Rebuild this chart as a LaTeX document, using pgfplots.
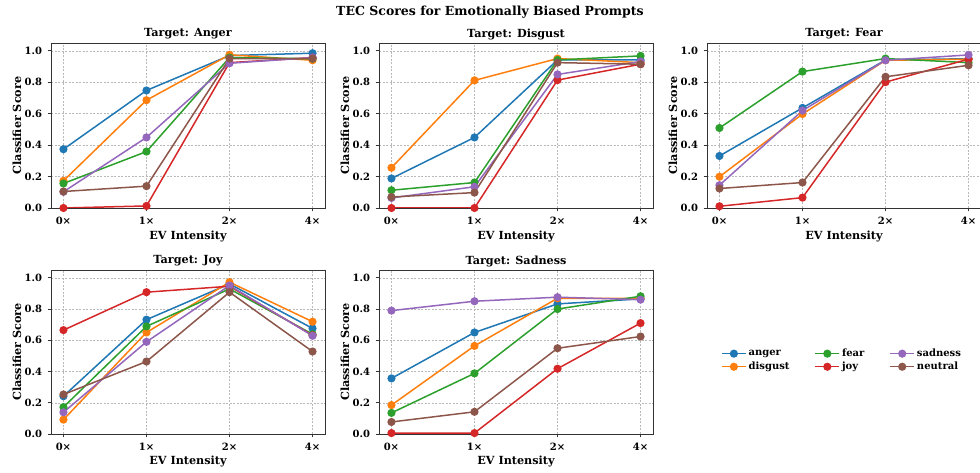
\documentclass[border=0pt]{standalone}
\usepackage{fontspec}
\setmainfont{DejaVu Serif}
\usepackage{pgfplots}
\pgfplotsset{compat=1.18}

\definecolor{cAnger}{HTML}{1F77B4}
\definecolor{cDisgust}{HTML}{FF7F0E}
\definecolor{cFear}{HTML}{2CA02C}
\definecolor{cJoy}{HTML}{D62728}
\definecolor{cSadness}{HTML}{9467BD}
\definecolor{cNeutral}{HTML}{8C564B}

\pgfplotsset{
  sAnger/.style={color=cAnger, line width=1.5pt, mark=*, mark size=3.3pt, mark options={solid, fill=cAnger}},
  sDisgust/.style={color=cDisgust, line width=1.5pt, mark=*, mark size=3.3pt, mark options={solid, fill=cDisgust}},
  sFear/.style={color=cFear, line width=1.5pt, mark=*, mark size=3.3pt, mark options={solid, fill=cFear}},
  sJoy/.style={color=cJoy, line width=1.5pt, mark=*, mark size=3.3pt, mark options={solid, fill=cJoy}},
  sSadness/.style={color=cSadness, line width=1.5pt, mark=*, mark size=3.3pt, mark options={solid, fill=cSadness}},
  sNeutral/.style={color=cNeutral, line width=1.5pt, mark=*, mark size=3.3pt, mark options={solid, fill=cNeutral}},
  tec/.style={
    scale only axis, width=274pt, height=165pt,
    xmin=-0.15, xmax=3.15, ymin=0, ymax=1.05,
    xtick={0,1,2,3}, xticklabels={0×,1×,2×,4×},
    ytick={0,0.2,0.4,0.6,0.8,1.0},
    /pgf/number format/fixed, /pgf/number format/fixed zerofill, /pgf/number format/precision=1,
    /pgf/number format/assume math mode=true,
    tick label style={font=\fontsize{10}{11}\selectfont\bfseries},
    yticklabel style={xshift=-2pt},
    xticklabel style={yshift=-2pt},
    label style={font=\fontsize{11.2}{13}\selectfont\bfseries},
    title style={font=\fontsize{11.2}{13}\selectfont\bfseries, at={(axis description cs:0.5,1)}, anchor=center, yshift=3pt},
    xlabel={EV Intensity}, ylabel={Classifier Score},
    ylabel style={at={(axis description cs:-0.124,0.5)}, anchor=center},
    xlabel style={at={(axis description cs:0.5,-0.17)}, anchor=center},
    grid=major,
    major grid style={dash pattern=on 2pt off 1.5pt, draw=gray!55, line width=0.5pt},
    tick align=outside, tick pos=left, major tick length=3.5pt,
    tick style={draw=black!80, line width=0.8pt},
    axis line style={draw=black!80, line width=0.8pt},
  },
}

\begin{document}
\begin{tikzpicture}[x=1pt,y=1pt]
\useasboundingbox (0,0) rectangle (980,473);
\node[font=\fontsize{12.5}{15}\selectfont\bfseries] at (490,461) {TEC Scores for Emotionally Biased Prompts};

% Target: Anger
\begin{axis}[tec, at={(51pt,265pt)}, anchor=south west, title={Target: Anger}]
\addplot[sAnger] coordinates {(0,0.374)(1,0.748)(2,0.970)(3,0.985)};
\addplot[sDisgust] coordinates {(0,0.173)(1,0.686)(2,0.975)(3,0.940)};
\addplot[sFear] coordinates {(0,0.156)(1,0.359)(2,0.957)(3,0.950)};
\addplot[sJoy] coordinates {(0,0.000)(1,0.013)(2,0.925)(3,0.957)};
\addplot[sSadness] coordinates {(0,0.103)(1,0.449)(2,0.921)(3,0.957)};
\addplot[sNeutral] coordinates {(0,0.105)(1,0.139)(2,0.951)(3,0.951)};
\end{axis}

% Target: Disgust
\begin{axis}[tec, at={(379pt,265pt)}, anchor=south west, title={Target: Disgust}]
\addplot[sAnger] coordinates {(0,0.188)(1,0.449)(2,0.942)(3,0.942)};
\addplot[sDisgust] coordinates {(0,0.256)(1,0.812)(2,0.951)(3,0.925)};
\addplot[sFear] coordinates {(0,0.113)(1,0.162)(2,0.942)(3,0.968)};
\addplot[sJoy] coordinates {(0,0.000)(1,0.000)(2,0.814)(3,0.915)};
\addplot[sSadness] coordinates {(0,0.064)(1,0.135)(2,0.850)(3,0.932)};
\addplot[sNeutral] coordinates {(0,0.070)(1,0.098)(2,0.925)(3,0.915)};
\end{axis}

% Target: Fear
\begin{axis}[tec, at={(707pt,265pt)}, anchor=south west, title={Target: Fear}]
\addplot[sAnger] coordinates {(0,0.331)(1,0.637)(2,0.942)(3,0.950)};
\addplot[sDisgust] coordinates {(0,0.199)(1,0.598)(2,0.940)(3,0.947)};
\addplot[sFear] coordinates {(0,0.509)(1,0.868)(2,0.951)(3,0.925)};
\addplot[sJoy] coordinates {(0,0.011)(1,0.066)(2,0.801)(3,0.947)};
\addplot[sSadness] coordinates {(0,0.145)(1,0.620)(2,0.940)(3,0.974)};
\addplot[sNeutral] coordinates {(0,0.124)(1,0.162)(2,0.835)(3,0.908)};
\end{axis}

% Target: Joy
\begin{axis}[tec, height=164pt, at={(51pt,39pt)}, anchor=south west, title={Target: Joy}]
\addplot[sAnger] coordinates {(0,0.242)(1,0.732)(2,0.961)(3,0.676)};
\addplot[sDisgust] coordinates {(0,0.092)(1,0.650)(2,0.972)(3,0.719)};
\addplot[sFear] coordinates {(0,0.172)(1,0.689)(2,0.929)(3,0.639)};
\addplot[sJoy] coordinates {(0,0.665)(1,0.908)(2,0.946)(3,0.632)};
\addplot[sSadness] coordinates {(0,0.139)(1,0.590)(2,0.951)(3,0.629)};
\addplot[sNeutral] coordinates {(0,0.253)(1,0.464)(2,0.908)(3,0.528)};
\end{axis}

% Target: Sadness
\begin{axis}[tec, height=164pt, at={(379pt,39pt)}, anchor=south west, title={Target: Sadness},
  legend columns=3,
  legend style={at={(axis description cs:1.237,0.45)}, anchor=west, draw=none, fill=none,
    font=\fontsize{10}{14}\selectfont\bfseries,
    /tikz/every even column/.append style={column sep=23pt}},
  legend cell align=left,
  legend image code/.code={\draw[mark repeat=2,mark phase=2] plot coordinates {(0pt,0pt)(12pt,0pt)(24pt,0pt)};}]
\addplot[sAnger, forget plot] coordinates {(0,0.356)(1,0.650)(2,0.833)(3,0.865)};
\addplot[sDisgust, forget plot] coordinates {(0,0.185)(1,0.564)(2,0.869)(3,0.869)};
\addplot[sFear, forget plot] coordinates {(0,0.135)(1,0.388)(2,0.800)(3,0.882)};
\addplot[sJoy, forget plot] coordinates {(0,0.006)(1,0.006)(2,0.418)(3,0.710)};
\addplot[sSadness, forget plot] coordinates {(0,0.790)(1,0.850)(2,0.876)(3,0.860)};
\addplot[sNeutral, forget plot] coordinates {(0,0.077)(1,0.142)(2,0.549)(3,0.624)};
\addlegendimage{sAnger}\addlegendentry{anger}
\addlegendimage{sFear}\addlegendentry{fear}
\addlegendimage{sSadness}\addlegendentry{sadness}
\addlegendimage{sDisgust}\addlegendentry{disgust}
\addlegendimage{sJoy}\addlegendentry{joy}
\addlegendimage{sNeutral}\addlegendentry{neutral}
\end{axis}
\end{tikzpicture}
\end{document}
